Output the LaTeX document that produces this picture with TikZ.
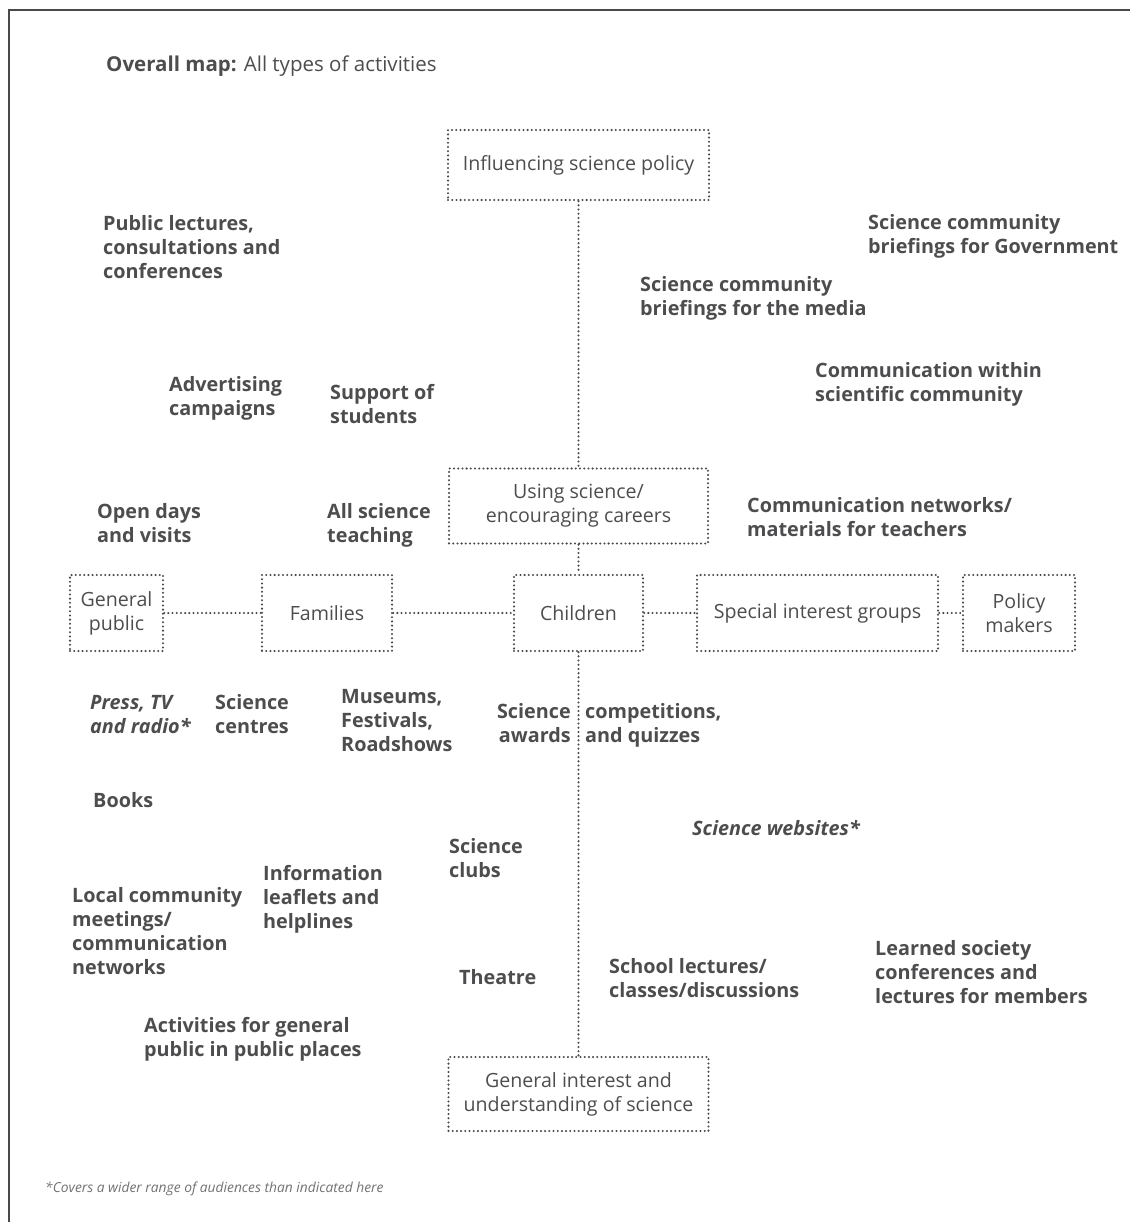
\documentclass[tikz,border=0pt]{standalone}
\usepackage{fontspec}
\setmainfont{Open Sans}
\definecolor{ink}{HTML}{4D4D4F}
\definecolor{dotc}{HTML}{4A4A4A}
\newcommand{\tl}[1]{\begin{tabular}[t]{@{}l@{}}#1\end{tabular}}
\newcommand{\tr}[1]{\begin{tabular}[t]{@{}r@{}}#1\end{tabular}}
\begin{document}
\begin{tikzpicture}[x=1pt,y=-1pt,
  dots/.style={draw=dotc,line width=2.3pt,dash pattern=on 0pt off 4.2pt,line cap=round},
  box/.style={dots,text=ink,font=\fontsize{19.6}{24}\selectfont,align=center,inner sep=0pt},
  lab/.style={text=ink,font=\fontsize{19.8}{24}\selectfont\bfseries,inner sep=0pt,anchor=base west},
  labr/.style={lab,anchor=base east},
  labi/.style={lab,font=\fontsize{19.8}{24}\selectfont\bfseries\itshape}]
\useasboundingbox (0,0) rectangle (1130,1222);
\draw[dotc,line width=2pt] (9,1222) -- (9,10) -- (1130,10);
\node[text=ink,anchor=base west,inner sep=0pt,font=\fontsize{20.5}{24}\selectfont] (title) at (106,72) {\textbf{Overall map:} All types of activities};
% boxes
\node[box,minimum width=261pt,minimum height=70pt] (isp) at (578.5,165) {Influencing science policy};
\node[box,minimum width=259pt,minimum height=75pt] (use) at (578.5,506) {Using science/\\encouraging careers};
\node[box,minimum width=93pt,minimum height=76pt] (gp) at (116.5,613) {General\\public};
\node[box,minimum width=130pt,minimum height=76pt] (fam) at (327,613) {Families};
\node[box,minimum width=129pt,minimum height=76pt] (chi) at (578.5,613) {Children};
\node[box,minimum width=241pt,minimum height=76pt] (sig) at (817.5,613) {Special interest groups};
\node[box,minimum width=112pt,minimum height=76pt] (pm) at (1019,613) {Policy\\makers};
\node[box,minimum width=260pt,minimum height=74pt] (giu) at (578.5,1094) {General interest and\\understanding of science};
% connectors
\draw[dots] (isp) -- (use);
\draw[dots] (use) -- (chi);
\draw[dots] (chi) -- (giu);
\draw[dots] (gp) -- (fam);
\draw[dots] (fam) -- (chi);
\draw[dots] (chi) -- (sig);
\draw[dots] (sig) -- (pm);
% labels
\node[lab] (l1) at (103,231) {\tl{Public lectures,\\consultations and\\conferences}};
\node[lab] (l2) at (868,230) {\tl{Science community\\briefings for Government}};
\node[lab] (l3) at (640,291) {\tl{Science community\\briefings for the media}};
\node[lab] (l4) at (815,377) {\tl{Communication within\\scientific community}};
\node[lab] (l5) at (169,391) {\tl{Advertising\\campaigns}};
\node[lab] (l6) at (330,399) {\tl{Support of\\students}};
\node[lab] (l7) at (97,518) {\tl{Open days\\and visits}};
\node[lab] (l8) at (327,518) {\tl{All science\\teaching}};
\node[lab] (l9) at (747,512) {\tl{Communication networks/\\materials for teachers}};
\node[labi] (l10) at (90,709) {\tl{Press, TV\\and radio*}};
\node[lab] (l11) at (215,709) {\tl{Science\\centres}};
\node[lab] (l12) at (341,703) {\tl{Museums,\\Festivals,\\Roadshows}};
\node[labr] (l13) at (571,718) {\tr{Science\\awards}};
\node[lab] (l14) at (585,718) {\tl{competitions,\\and quizzes}};
\node[lab] (l15) at (93,807) {Books};
\node[labi] (l16) at (692,835) {Science websites*};
\node[lab] (l17) at (449,853) {\tl{Science\\clubs}};
\node[lab] (l18) at (263,880) {\tl{Information\\leaflets and\\helplines}};
\node[lab] (l19) at (72,902) {\tl{Local community\\meetings/\\communication\\networks}};
\node[lab] (l20) at (875,955) {\tl{Learned society\\conferences and\\lectures for members}};
\node[lab] (l21) at (459,984) {Theatre};
\node[lab] (l22) at (609,973) {\tl{School lectures/\\classes/discussions}};
\node[lab] (l23) at (144,1032) {\tl{Activities for general\\public in public places}};
\node[text=ink!80,anchor=base west,inner sep=0pt,font=\fontsize{13.8}{17}\selectfont\itshape] (foot) at (45,1192) {*Covers a wider range of audiences than indicated here};
\end{tikzpicture}
\end{document}
